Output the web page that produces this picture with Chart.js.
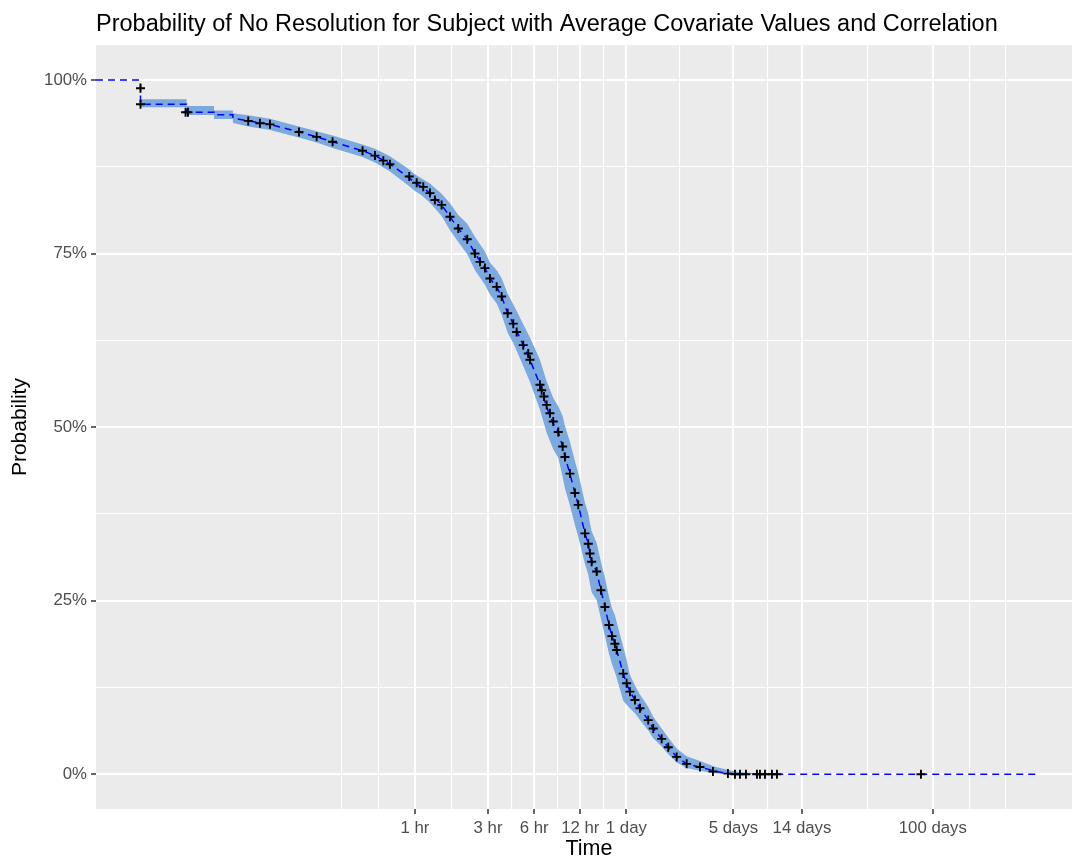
<!DOCTYPE html>
<html>
<head>
<meta charset="utf-8">
<script src="https://cdn.jsdelivr.net/npm/chart.js@4.4.0/dist/chart.umd.min.js"></script>
<style>
    html, body { margin: 0; padding: 0; background: #ffffff; overflow: hidden; }
    /* the plot panel runs past the right edge of the picture, as in the original */
    #wrap { width: 1072px; height: 860px; overflow: hidden; }
</style>
</head>
<body>
<div id="wrap"><canvas id="survChart" width="1082" height="860"></canvas></div>
<script>
// Time axis breaks (minutes, log scale)
const majorTimes = [60, 180, 360, 720, 1440, 7200, 20160, 144000];
const majorLabels = ['1 hr', '3 hr', '6 hr', '12 hr', '1 day', '5 days', '14 days', '100 days'];
const minorTimes = [20, 34.6, 103.9, 254.6, 509.1, 1018, 3220, 12048, 53882, 249415, 432000];

// Probability axis breaks
const probMajor = [0, 0.25, 0.5, 0.75, 1];
const probMinor = [0.125, 0.375, 0.625, 0.875];

// Panel limits
const X_MIN = 0.497;
const X_MAX = 1356000;
const Y_MIN = -0.05;
const Y_MAX = 1.05;

// Estimated survival curve with confidence band (time in minutes)
const timeMin = [0.497, 0.97, 0.97, 1.94, 1.94, 2.93, 2.93, 3.89, 3.89, 4.90,
    6.79, 10.5, 13.7, 17.4, 27.3, 32.9, 41.2, 54.3, 60, 66.4,
    75.2, 89.6, 101.6, 115.1, 131.7, 147.9, 171.8, 185.2, 204.9, 220.9,
    241.7, 263.0, 305.5, 338.0, 392.8, 434.3, 479.6, 517.1, 552.4, 571.8,
    616.4, 664.6, 698.4, 772.4, 811.6, 832.6, 854.2, 920.8, 982.3, 1043,
    1108, 1159, 1212, 1244, 1373, 1445, 1519, 1638, 1766, 2000,
    2156, 2446, 2701, 3065, 3562, 4351, 5449, 6655, 7935, 10718,
    14478, 688980];
const survEst = [1, 1, 0.965, 0.965, 0.9535, 0.9535, 0.950, 0.950, 0.945, 0.941,
    0.936, 0.925, 0.918, 0.911, 0.898, 0.891, 0.879, 0.860, 0.852, 0.846,
    0.837, 0.820, 0.803, 0.786, 0.771, 0.750, 0.729, 0.714, 0.702, 0.688,
    0.664, 0.649, 0.618, 0.597, 0.561, 0.529, 0.505, 0.493, 0.472, 0.457,
    0.433, 0.405, 0.388, 0.347, 0.332, 0.318, 0.306, 0.292, 0.265, 0.241,
    0.215, 0.199, 0.188, 0.179, 0.145, 0.131, 0.119, 0.107, 0.095, 0.078,
    0.066, 0.051, 0.039, 0.025, 0.015, 0.0105, 0.0043, 0.001, 0, 0,
    0, 0];
const survLower = [1, 1, 0.9607, 0.9607, 0.9496, 0.9496, 0.9438, 0.9438, 0.938, 0.933,
    0.928, 0.917, 0.910, 0.902, 0.889, 0.881, 0.868, 0.848, 0.840, 0.834,
    0.823, 0.804, 0.7835, 0.7665, 0.749, 0.726, 0.705, 0.691, 0.678, 0.6615,
    0.636, 0.621, 0.588, 0.565, 0.525, 0.492, 0.468, 0.456, 0.428, 0.412,
    0.387, 0.359, 0.342, 0.303, 0.288, 0.274, 0.262, 0.251, 0.224, 0.199,
    0.174, 0.159, 0.147, 0.139, 0.106, 0.100, 0.095, 0.088, 0.078, 0.063,
    0.052, 0.040, 0.029, 0.017, 0.009, 0.005, 0.0015, 0, 0, 0,
    0, 0];
const survUpper = [1, 1, 0.9722, 0.9722, 0.9625, 0.9625, 0.9558, 0.9558, 0.952, 0.949,
    0.944, 0.933, 0.926, 0.920, 0.907, 0.901, 0.890, 0.872, 0.864, 0.858,
    0.851, 0.836, 0.8225, 0.8055, 0.793, 0.774, 0.753, 0.737, 0.726, 0.7145,
    0.692, 0.677, 0.648, 0.629, 0.597, 0.566, 0.542, 0.530, 0.516, 0.502,
    0.479, 0.451, 0.434, 0.391, 0.376, 0.362, 0.350, 0.333, 0.306, 0.283,
    0.256, 0.239, 0.229, 0.219, 0.184, 0.165, 0.143, 0.128, 0.115, 0.097,
    0.083, 0.066, 0.053, 0.037, 0.026, 0.019, 0.011, 0.006, 0.003, 0.001,
    0, 0];

// Censored observations
const censorMin = [0.97, 0.97, 1.91, 1.98, 4.90, 5.84, 6.79, 10.5, 13.7, 17.4,
    27.3, 32.9, 37.3, 41.2, 55.1, 61.6, 68.0, 75.2, 81.0, 89.6,
    101.6, 115.1, 131.7, 147.9, 159.4, 171.8, 185.2, 204.9, 220.9, 241.7,
    263.0, 276.7, 305.5, 329.4, 338.0, 392.8, 402.9, 417.0, 434.3, 456.4,
    479.6, 517.1, 552.4, 571.8, 616.4, 664.6, 698.4, 772.4, 811.6, 832.6,
    854.2, 920.8, 982.3, 1043, 1108, 1159, 1212, 1244, 1373, 1445,
    1519, 1638, 1766, 2000, 2156, 2446, 2701, 3065, 3562, 4351,
    5288, 6624, 7362, 7935, 8682, 10248, 10718, 11556, 12834, 13842,
    120540];
const censorProb = [0.988, 0.965, 0.9535, 0.9535, 0.941, 0.9376, 0.936, 0.925, 0.918, 0.911,
    0.898, 0.891, 0.8837, 0.8785, 0.861, 0.852, 0.846, 0.837, 0.827, 0.820,
    0.803, 0.786, 0.7705, 0.750, 0.738, 0.729, 0.714, 0.702, 0.688, 0.664,
    0.649, 0.637, 0.618, 0.606, 0.597, 0.561, 0.553, 0.544, 0.532, 0.520,
    0.508, 0.493, 0.472, 0.457, 0.433, 0.405, 0.388, 0.347, 0.332, 0.318,
    0.306, 0.292, 0.265, 0.241, 0.215, 0.199, 0.188, 0.179, 0.145, 0.131,
    0.119, 0.107, 0.095, 0.078, 0.066, 0.051, 0.039, 0.025, 0.015, 0.0105,
    0.004, 0.001, 0, 0, 0, 0, 0, 0, 0, 0,
    0];

const FONT = "'Liberation Sans', Arial, sans-serif";

function toPoints(xs, ys) {
    return xs.map((x, i) => ({ x: x, y: ys[i] }));
}

// grey panel behind the grid
const panelBackground = {
    id: 'panelBackground',
    beforeDraw(chart) {
        const { ctx, chartArea } = chart;
        ctx.save();
        ctx.fillStyle = '#EBEBEB';
        ctx.fillRect(chartArea.left, chartArea.top,
            chartArea.right - chartArea.left, chartArea.bottom - chartArea.top);
        ctx.restore();
    }
};

const isMajorTime = c => c.tick && majorTimes.includes(c.tick.value);
const isMajorProb = c => c.tick && probMajor.includes(c.tick.value);

const ctx = document.getElementById('survChart').getContext('2d');
new Chart(ctx, {
    type: 'line',
    data: {
        datasets: [
            {
                label: 'lower',
                data: toPoints(timeMin, survLower),
                borderColor: 'rgba(0,0,0,0)',
                borderWidth: 1,
                pointRadius: 0,
                fill: false,
                order: 3
            },
            {
                label: 'upper',
                data: toPoints(timeMin, survUpper),
                borderColor: 'rgba(0,0,0,0)',
                borderWidth: 1,
                backgroundColor: 'rgb(124,169,222)',
                pointRadius: 0,
                fill: '-1',
                order: 2
            },
            {
                label: 'estimate',
                data: toPoints(timeMin, survEst),
                borderColor: '#0000FF',
                borderWidth: 1.5,
                borderDash: [7, 5],
                pointRadius: 0,
                fill: false,
                order: 1
            },
            {
                label: 'censored',
                data: toPoints(censorMin, censorProb),
                showLine: false,
                pointStyle: 'cross',
                pointRadius: 4.5,
                borderColor: '#000000',
                backgroundColor: '#000000',
                pointBorderWidth: 1.9,
                order: 0
            }
        ]
    },
    options: {
        responsive: false,
        animation: false,
        devicePixelRatio: 1,
        layout: { autoPadding: false, padding: 0 },
        plugins: {
            legend: { display: false },
            tooltip: { enabled: false },
            title: {
                display: true,
                text: 'Probability of No Resolution for Subject with Average Covariate Values and Correlation',
                align: 'start',
                fullSize: false,
                color: '#000000',
                font: { family: FONT, size: 23.5, weight: 'normal', lineHeight: 1.2 },
                padding: { top: 10, bottom: 7 }
            }
        },
        scales: {
            x: {
                type: 'logarithmic',
                min: X_MIN,
                max: X_MAX,
                bounds: 'data',
                afterBuildTicks: scale => {
                    scale.ticks = majorTimes.concat(minorTimes)
                        .sort((a, b) => a - b)
                        .map(v => ({ value: v }));
                },
                afterFit: scale => { scale.height = 51; },
                border: { display: false },
                grid: {
                    color: '#FFFFFF',
                    lineWidth: c => isMajorTime(c) ? 2 : 1.1,
                    tickColor: c => isMajorTime(c) ? '#333333' : 'rgba(0,0,0,0)',
                    tickLength: 5,
                    tickWidth: 1.5
                },
                ticks: {
                    autoSkip: false,
                    maxRotation: 0,
                    minRotation: 0,
                    padding: 4,
                    color: '#4D4D4D',
                    font: { family: FONT, size: 16.8 },
                    callback: value => {
                        const i = majorTimes.indexOf(value);
                        return i >= 0 ? majorLabels[i] : '';
                    }
                },
                title: {
                    display: true,
                    text: 'Time',
                    color: '#000000',
                    font: { family: FONT, size: 21.5, lineHeight: 1.0 },
                    padding: { top: 0, bottom: 0 }
                }
            },
            y: {
                type: 'linear',
                min: Y_MIN,
                max: Y_MAX,
                bounds: 'data',
                afterBuildTicks: scale => {
                    scale.ticks = probMajor.concat(probMinor)
                        .sort((a, b) => a - b)
                        .map(v => ({ value: v }));
                },
                afterFit: scale => { scale.width = 96; },
                border: { display: false },
                grid: {
                    color: '#FFFFFF',
                    lineWidth: c => isMajorProb(c) ? 2 : 1.1,
                    tickColor: c => isMajorProb(c) ? '#333333' : 'rgba(0,0,0,0)',
                    tickLength: 5,
                    tickWidth: 1.5
                },
                ticks: {
                    padding: 4,
                    color: '#4D4D4D',
                    font: { family: FONT, size: 16.8 },
                    callback: value => probMajor.includes(value) ? Math.round(value * 100) + '%' : ''
                },
                title: {
                    display: true,
                    text: 'Probability',
                    color: '#000000',
                    font: { family: FONT, size: 21, lineHeight: 1.2 },
                    padding: { top: 8, bottom: 0 }
                }
            }
        }
    },
    plugins: [panelBackground]
});
</script>
</body>
</html>
